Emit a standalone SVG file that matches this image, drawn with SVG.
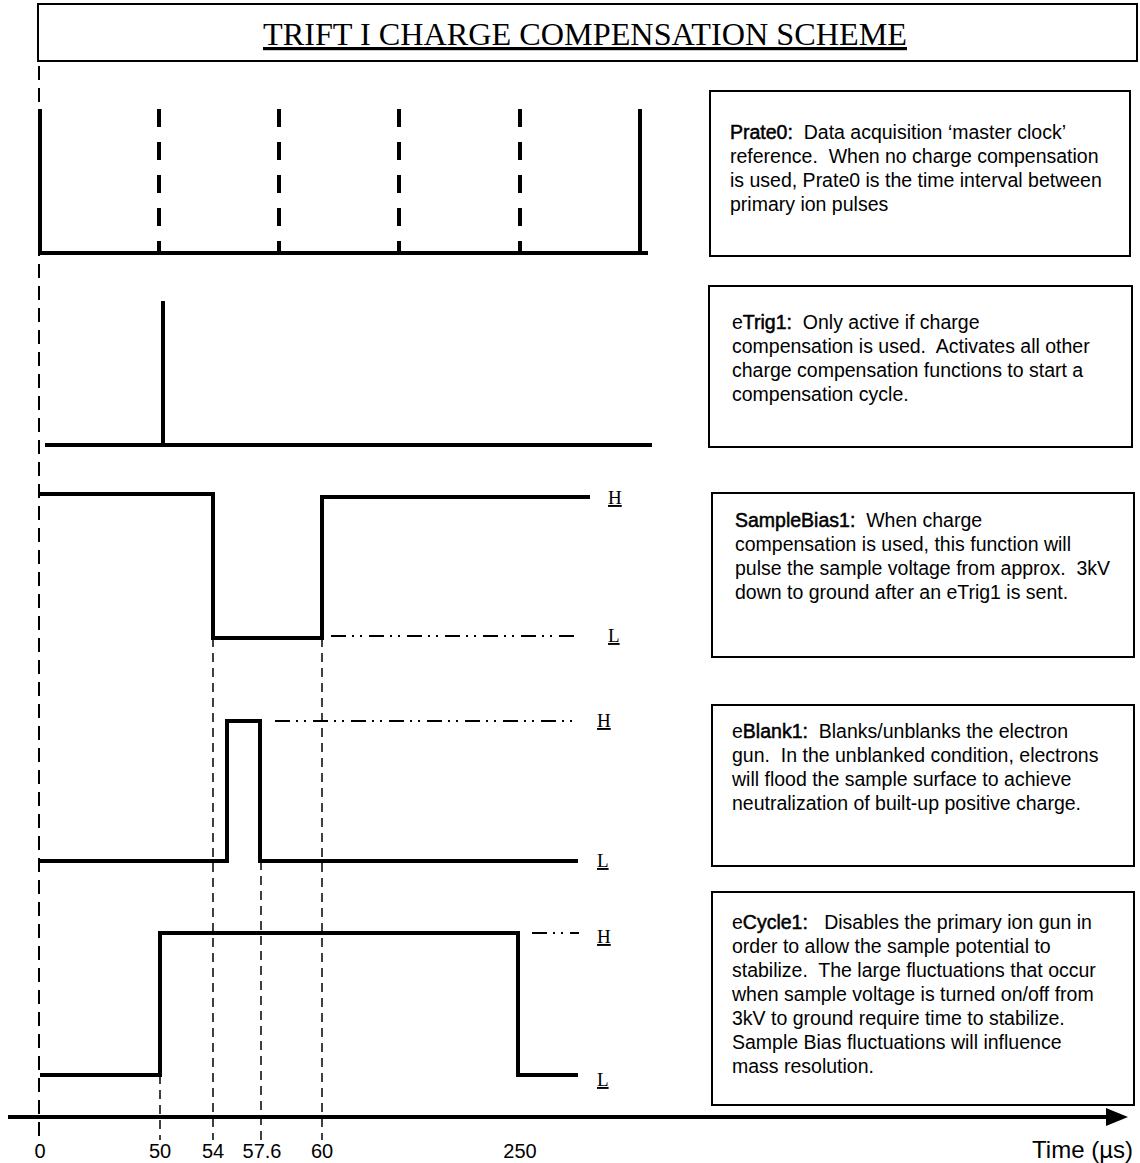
<svg xmlns="http://www.w3.org/2000/svg" width="1140" height="1163" viewBox="0 0 1140 1163">
<style>
  .box{fill:#fff;stroke:#000;stroke-width:2}
  .wave{fill:none;stroke:#000;stroke-width:4;stroke-linejoin:miter;stroke-linecap:butt}
  .ref{fill:none;stroke:#000;stroke-width:2;stroke-dasharray:14 8}
  .tick{fill:none;stroke:#000;stroke-width:1.5;stroke-dasharray:9 6}
  .dd{fill:none;stroke:#000;stroke-width:2;stroke-dasharray:15 6 2 6 2 7}
  .pd{fill:none;stroke:#000;stroke-width:4;stroke-dasharray:18 15}
  .desc{font-family:"Liberation Sans",Arial,sans-serif;font-size:19.5px;fill:#000;white-space:pre}
  .b{stroke:#000;stroke-width:0.5}
  .hl{font-family:"Liberation Serif","Times New Roman",serif;font-size:19px;fill:#000;text-decoration:underline}
  .num{font-family:"Liberation Sans",Arial,sans-serif;font-size:20px;fill:#000;text-anchor:middle}
</style>

<g id="title">
  <rect x="38" y="4" width="1099" height="57" class="box"/>
  <text x="585" y="45" font-family="Liberation Serif,'Times New Roman',serif" font-size="32" text-anchor="middle" text-decoration="underline" textLength="644" lengthAdjust="spacingAndGlyphs">TRIFT I CHARGE COMPENSATION SCHEME</text>
</g>

<g id="connectors">
  <line x1="39" y1="66" x2="39" y2="1145" class="ref"/>
  <line x1="160" y1="1075" x2="160" y2="1140" class="tick"/>
  <line x1="213" y1="638" x2="213" y2="1140" class="tick"/>
  <line x1="261" y1="861" x2="261" y2="1140" class="tick"/>
  <line x1="322" y1="638" x2="322" y2="1140" class="tick"/>
</g>

<g id="prate0">
  <path d="M40,109 V253 H648" class="wave"/>
  <line x1="640" y1="109" x2="640" y2="253" class="wave"/>
  <line x1="159" y1="109" x2="159" y2="253" class="pd"/>
  <line x1="279" y1="109" x2="279" y2="253" class="pd"/>
  <line x1="399" y1="109" x2="399" y2="253" class="pd"/>
  <line x1="520" y1="109" x2="520" y2="253" class="pd"/>
  <rect x="710" y="91" width="420" height="165" class="box"/>
  <text class="desc" x="730" y="139"><tspan class="b">Prate0:</tspan>  Data acquisition ‘master clock’</text>
  <text class="desc" x="730" y="163">reference.  When no charge compensation</text>
  <text class="desc" x="730" y="187">is used, Prate0 is the time interval between</text>
  <text class="desc" x="730" y="211">primary ion pulses</text>
</g>

<g id="etrig1">
  <line x1="45" y1="445" x2="652" y2="445" class="wave" stroke-width="5"/>
  <line x1="163" y1="301" x2="163" y2="445" class="wave" stroke-width="3.5"/>
  <rect x="709" y="286" width="423" height="161" class="box"/>
  <text class="desc" x="732" y="329">e<tspan class="b">Trig1:</tspan>  Only active if charge</text>
  <text class="desc" x="732" y="353">compensation is used.  Activates all other</text>
  <text class="desc" x="732" y="377">charge compensation functions to start a</text>
  <text class="desc" x="732" y="401">compensation cycle.</text>
</g>

<g id="samplebias1">
  <path d="M40,494 H213 V638 H322 V497 H590" class="wave"/>
  <line x1="331" y1="636" x2="575" y2="636" class="dd"/>
  <text class="hl" x="608" y="504">H</text>
  <text class="hl" x="608" y="642">L</text>
  <rect x="712" y="493" width="422" height="164" class="box"/>
  <text class="desc" x="735" y="527"><tspan class="b">SampleBias1:</tspan>  When charge</text>
  <text class="desc" x="735" y="551">compensation is used, this function will</text>
  <text class="desc" x="735" y="575">pulse the sample voltage from approx.  3kV</text>
  <text class="desc" x="735" y="599">down to ground after an eTrig1 is sent.</text>
</g>

<g id="eblank1">
  <path d="M40,861 H227 V721 H260 V861 H578" class="wave"/>
  <line x1="275" y1="721" x2="573" y2="721" class="dd"/>
  <text class="hl" x="597" y="727">H</text>
  <text class="hl" x="597" y="867">L</text>
  <rect x="712" y="705" width="422" height="161" class="box"/>
  <text class="desc" x="732" y="738">e<tspan class="b">Blank1:</tspan>  Blanks/unblanks the electron</text>
  <text class="desc" x="732" y="762">gun.  In the unblanked condition, electrons</text>
  <text class="desc" x="732" y="786">will flood the sample surface to achieve</text>
  <text class="desc" x="732" y="810">neutralization of built-up positive charge.</text>
</g>

<g id="ecycle1">
  <path d="M40,1075 H160 V933 H518 V1075 H578" class="wave"/>
  <line x1="532" y1="933" x2="579" y2="933" class="dd"/>
  <text class="hl" x="597" y="943">H</text>
  <text class="hl" x="597" y="1086">L</text>
  <rect x="712" y="892" width="422" height="213" class="box"/>
  <text class="desc" x="732" y="929">e<tspan class="b">Cycle1:</tspan>   Disables the primary ion gun in</text>
  <text class="desc" x="732" y="953">order to allow the sample potential to</text>
  <text class="desc" x="732" y="977">stabilize.  The large fluctuations that occur</text>
  <text class="desc" x="732" y="1001">when sample voltage is turned on/off from</text>
  <text class="desc" x="732" y="1025">3kV to ground require time to stabilize.</text>
  <text class="desc" x="732" y="1049">Sample Bias fluctuations will influence</text>
  <text class="desc" x="732" y="1073">mass resolution.</text>
</g>

<g id="time-axis">
  <line x1="8" y1="1117" x2="1110" y2="1117" stroke="#000" stroke-width="4"/>
  <path d="M1106,1108 L1128,1117 L1106,1126 Z" fill="#000"/>
  <text class="num" x="40" y="1158">0</text>
  <text class="num" x="160" y="1158">50</text>
  <text class="num" x="213" y="1158">54</text>
  <text class="num" x="262" y="1158">57.6</text>
  <text class="num" x="322" y="1158">60</text>
  <text class="num" x="520" y="1158">250</text>
  <text x="1133" y="1158" font-family="Liberation Sans,Arial,sans-serif" font-size="24" text-anchor="end">Time (µs)</text>
</g>
</svg>
